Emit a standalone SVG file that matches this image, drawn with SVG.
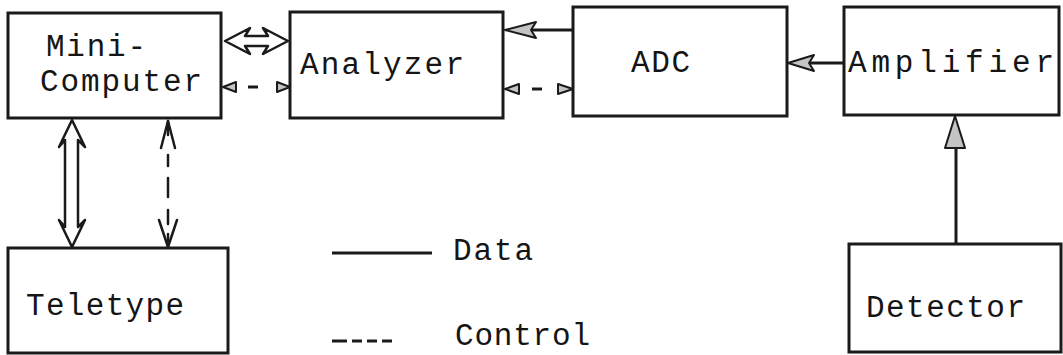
<svg xmlns="http://www.w3.org/2000/svg" width="1063" height="355" viewBox="0 0 1063 355">
<style>
.box{fill:#fff;stroke:#1a1a1a;stroke-width:3}
.t{font-family:"Liberation Mono","Courier New",monospace;font-size:31px;fill:#151515}
.ln{stroke:#1a1a1a;stroke-width:3;fill:none}
.thin{stroke:#1a1a1a;stroke-width:2.5;fill:none;stroke-linejoin:round;stroke-linecap:round}
.hd{fill:#c4c4c4;stroke:#1a1a1a;stroke-width:2;stroke-linejoin:round}
.dbl{fill:#fff;stroke:#1a1a1a;stroke-width:2.5;stroke-linejoin:round}
</style>
<rect width="1063" height="355" fill="#fff"/>
<g id="mini-computer">
<rect class="box" x="8" y="13" width="213" height="105"/>
<text class="t" x="46" y="56" textLength="100">Mini-</text>
<text class="t" x="40" y="91" textLength="162">Computer</text>
</g>
<g id="analyzer">
<rect class="box" x="290" y="12" width="213" height="106"/>
<text class="t" x="300" y="74" textLength="164">Analyzer</text>
</g>
<g id="adc">
<rect class="box" x="573" y="7" width="214" height="109"/>
<text class="t" x="631" y="72" textLength="59">ADC</text>
</g>
<g id="amplifier">
<rect class="box" x="844" y="7" width="215" height="108"/>
<text class="t" x="848" y="72" textLength="206">Amplifier</text>
</g>
<g id="teletype">
<rect class="box" x="8" y="248" width="220" height="105"/>
<text class="t" x="26" y="315" textLength="158">Teletype</text>
</g>
<g id="detector">
<rect class="box" x="849" y="244" width="212" height="108"/>
<text class="t" x="866" y="317" textLength="159">Detector</text>
</g>
<g id="connectors">
<g id="mini-analyzer-data">
<polygon class="dbl" points="225,41 250,28 245,36 268,36 263,28 288,41 263,54 268,46 245,46 250,54"/>
</g>
<g id="mini-analyzer-control">
<polygon class="hd" points="223,87 236,82 236,92"/>
<line class="ln" x1="248" y1="87" x2="258" y2="87"/>
<polygon class="hd" points="290,87 277,82 277,92"/>
</g>
<g id="mini-teletype-data">
<polygon class="dbl" points="72,120 85,147 78,140 78,227 85,220 72,247 59,220 65,227 65,140 59,147"/>
</g>
<g id="mini-teletype-control">
<path class="thin" d="M168 121V135M168 155V166M168 178V197M168 210V224M168 234V247"/>
<polyline class="thin" points="161,148 168,121 175,148"/>
<polyline class="thin" points="159,220 168,247 177,220"/>
</g>
<g id="adc-analyzer-data">
<line class="ln" x1="532" y1="30" x2="573" y2="30"/>
<polygon class="hd" points="505,30 536,22 531,30 536,38"/>
</g>
<g id="analyzer-adc-control">
<polygon class="hd" points="505,89 519,84 519,94"/>
<line class="ln" x1="532" y1="89" x2="542" y2="89"/>
<polygon class="hd" points="573,89 558,84 558,94"/>
</g>
<g id="amplifier-adc-data">
<line class="ln" x1="810" y1="63" x2="844" y2="63"/>
<polygon class="hd" points="788,63 814,55 809,63 814,71"/>
</g>
<g id="detector-amplifier-data">
<line class="ln" x1="956" y1="146" x2="956" y2="244"/>
<polygon class="hd" points="955,116 965,148 945,148"/>
</g>
</g>
<g id="legend">
<line class="ln" x1="332" y1="253" x2="432" y2="253"/>
<text class="t" x="453" y="260" textLength="80">Data</text>
<path class="ln" d="M332 341H347M352 341H362M367 341H377M382 341H392"/>
<text class="t" x="455" y="345" textLength="135">Control</text>
</g>
</svg>
